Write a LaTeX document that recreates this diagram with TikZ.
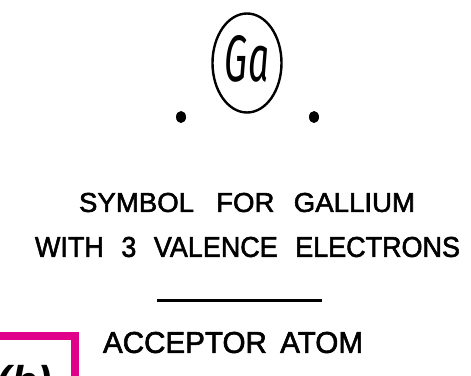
\documentclass[tikz,border=0pt]{standalone}
\usepackage{fontspec}
\setmainfont{Liberation Sans}[FakeBold=2]
\newfontfamily\gafont{Fira Sans}
\newfontfamily\lblfont{Liberation Sans}
\definecolor{boxpink}{RGB}{224,0,138}
\tikzset{
  lbl/.style={inner sep=0pt, outer sep=0pt},
  dotel/.style={fill=black, draw=none},
}
\begin{document}
\begin{tikzpicture}[x=1pt,y=-1pt]
\useasboundingbox (0,0) rectangle (471,375);
\clip (0,0) rectangle (471,375);
\fill[white] (0,0) rectangle (471,375);
% atom symbol
\draw[line width=2.4pt] (247,63) ellipse [x radius=34.5, y radius=49.5];
\node[lbl] (ga) at (247,58.5) {\resizebox{44pt}{46pt}{\gafont\itshape Ga}};
\fill[dotel] (181,117) ellipse [x radius=5, y radius=6];
\fill[dotel] (314,117) ellipse [x radius=5, y radius=6];
% captions
\node[lbl] (l1) at (247,202.5) {\resizebox{336pt}{19pt}{SYMBOL\hspace{0.8em}FOR\hspace{0.7em}GALLIUM}};
\node[lbl] (l2) at (247.5,247) {\resizebox{425pt}{20pt}{WITH\hspace{0.65em}3\hspace{0.65em}VALENCE\hspace{0.65em}ELECTRONS}};
\coordinate (ra) at (157,300.5);
\coordinate (rb) at (322,300.5);
\draw[line width=3pt] (ra) -- (rb);
\node[lbl] (l3) at (233,342.5) {\resizebox{260pt}{21pt}{ACCEPTOR\hspace{0.45em}ATOM}};
% label box
\draw[boxpink, line width=7.5pt, fill=white] (-20,336) rectangle (75,420);
\node[lbl, anchor=base west] (lb) at (-3,396) {\lblfont\fontsize{43}{43}\selectfont\bfseries\itshape (b)};
\end{tikzpicture}
\end{document}
